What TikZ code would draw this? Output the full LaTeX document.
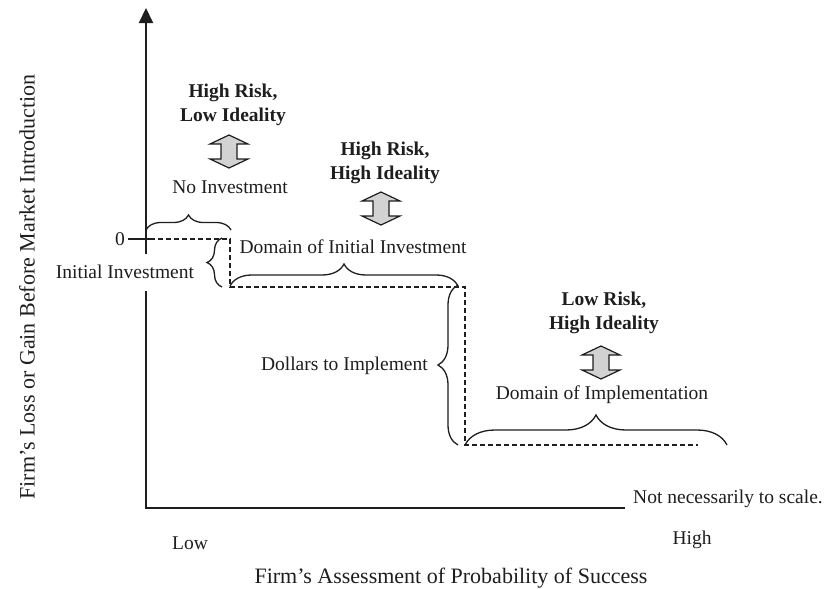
\documentclass[tikz,border=0pt]{standalone}
\usepackage{fontspec}
\setmainfont{Liberation Serif}
\usetikzlibrary{decorations.pathreplacing,arrows.meta}
\definecolor{ink}{HTML}{1E1E1E}
\tikzset{
  lbl/.style={inner sep=1pt, text=ink, font=\fontsize{19.5}{24}\selectfont},
  axlbl/.style={inner sep=1pt, text=ink, font=\fontsize{22}{26}\selectfont},
  risk/.style={inner sep=1pt, text=ink, align=center, font=\fontsize{19.5}{24}\selectfont\bfseries},
  axisline/.style={draw=ink, line width=2pt, line join=miter},
  stepline/.style={draw=ink, line width=1.2pt, dash pattern=on 5pt off 3pt},
  bracepath/.style={draw=ink, line width=1.3pt, decorate, decoration={brace, amplitude=#1}},
  riskarrow/.pic={
    \filldraw[fill=gray!35, draw=ink, line width=1.2pt, line join=miter]
      (0,0) -- (19,9) -- (8,9) -- (8,24) -- (19,24) -- (0,33)
      -- (-19,24) -- (-8,24) -- (-8,9) -- (-19,9) -- cycle;
  }
}
\begin{document}
\begin{tikzpicture}[x=1pt,y=-1pt]
\useasboundingbox (0,0) rectangle (828,589);

% axes
\coordinate (origin) at (146,508);
\coordinate (ytop) at (146,8);
\coordinate (xend) at (625,508);
\draw[axisline, {Triangle[width=14pt,length=15pt]}-] (ytop) -- (origin) -- (xend);

% zero tick
\coordinate (tickL) at (128,239);
\coordinate (tickR) at (150,239);
\draw[draw=ink, line width=1.3pt] (tickL) -- (tickR);
\node[lbl, anchor=east] (zero) at (126,239) {0};

% stepped loss curve
\coordinate (s0) at (150,239);
\coordinate (s1) at (230,239);
\coordinate (s2) at (230,287);
\coordinate (s3) at (465,287);
\coordinate (s4) at (465,445);
\coordinate (s5) at (698,445);
\draw[stepline] (s0) -- (s1) -- (s2) -- (s3) -- (s4) -- (s5);

% braces
\coordinate (b1a) at (146,230); \coordinate (b1b) at (231,230);
\draw[bracepath=15] (b1a) -- (b1b);
\coordinate (b2a) at (222,287); \coordinate (b2b) at (222,238);
\draw[bracepath=15] (b2a) -- (b2b);
\coordinate (b3a) at (230,286); \coordinate (b3b) at (458,286);
\draw[bracepath=22] (b3a) -- (b3b);
\coordinate (b4a) at (458,445); \coordinate (b4b) at (458,285);
\draw[bracepath=20] (b4a) -- (b4b);
\coordinate (b5a) at (465,445); \coordinate (b5b) at (727,445);
\draw[bracepath=30] (b5a) -- (b5b);

% region labels
\node[risk] (r1) at (233,105) {High Risk,\\Low Ideality};
\pic at (229,135) {riskarrow};
\node[lbl] (noinv) at (230,187) {No Investment};

\node[risk] (r2) at (385,163) {High Risk,\\High Ideality};
\pic at (381,192) {riskarrow};
\node[lbl] (dominit) at (353,247) {Domain of Initial Investment};

\node[risk] (r3) at (604,313) {Low Risk,\\High Ideality};
\pic at (601,346) {riskarrow};
\node[lbl] (domimpl) at (602,395) {Domain of Implementation};

\node[lbl, fill=white, minimum height=37pt] (initinv) at (125,272) {Initial Investment};
\node[lbl, anchor=east] (dollars) at (429,366) {Dollars to Implement};

% axis labels
\node[lbl] (low) at (190,543) {Low};
\node[lbl] (high) at (692,540) {High};
\node[lbl] (scale) at (728,499) {Not necessarily to scale.};
\node[axlbl] (xlabel) at (451,578) {Firm’s Assessment of Probability of Success};
\node[axlbl, rotate=90] (ylabel) at (27,287) {Firm’s Loss or Gain Before Market Introduction};
\end{tikzpicture}
\end{document}
